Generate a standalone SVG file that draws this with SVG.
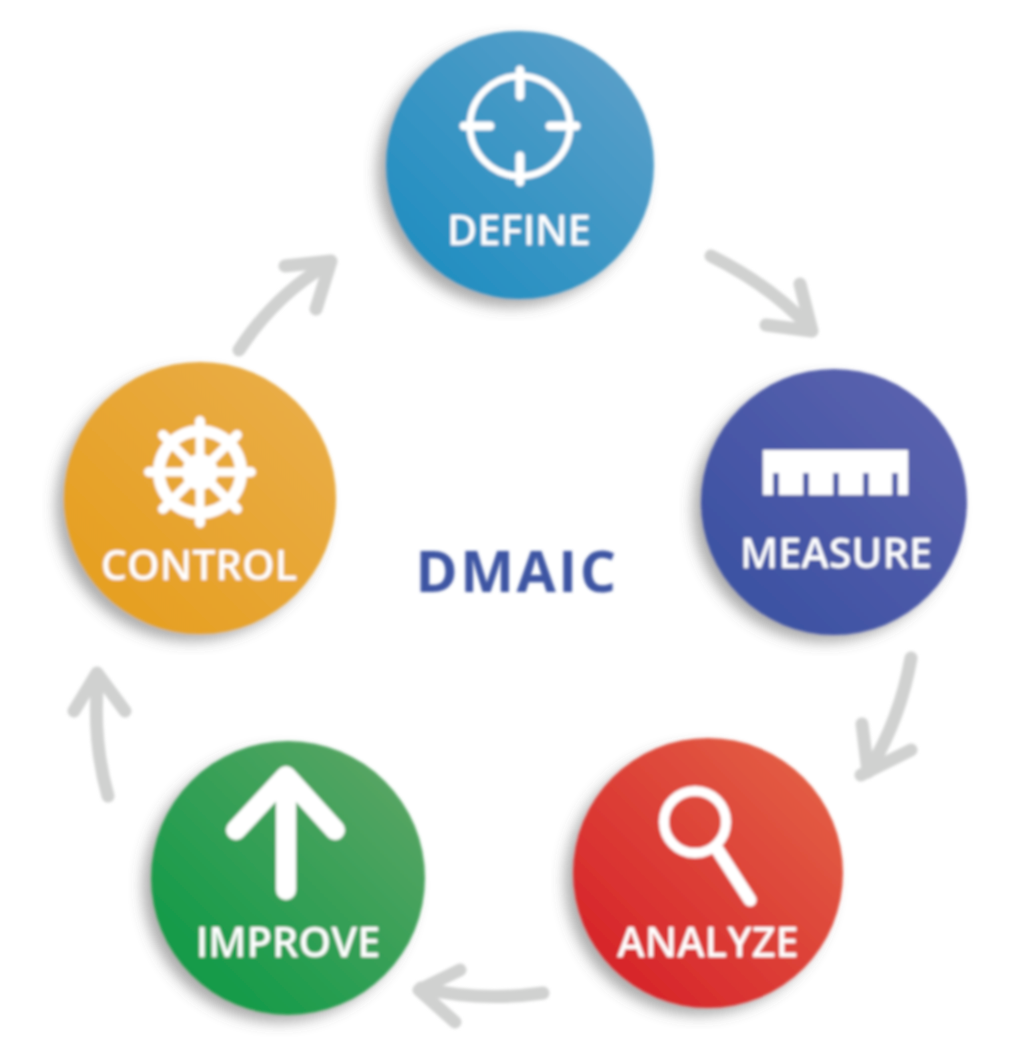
<svg xmlns="http://www.w3.org/2000/svg" width="1024" height="1048" viewBox="0 0 1024 1048">
<style>
.lbl{font-family:"Open Sans","Liberation Sans",sans-serif;font-weight:600;fill:#fff;text-anchor:middle;font-size:41.5px}
.arr{fill:none;stroke:#d0d1d0;stroke-width:13;stroke-linecap:round;stroke-linejoin:round}
.ic{fill:none;stroke:#fff;stroke-linecap:round}
.soft{filter:url(#b)}
</style>
<defs>
<filter id="b" x="-5%" y="-5%" width="110%" height="110%"><feGaussianBlur stdDeviation="1.5"/></filter>
<filter id="sh" x="-20%" y="-20%" width="140%" height="140%"><feGaussianBlur stdDeviation="7"/></filter>
<linearGradient id="gD" x1="0" y1="1" x2="1" y2="0"><stop offset="0.1" stop-color="#1f8dc0"/><stop offset="0.9" stop-color="#5a9fc9"/></linearGradient>
<linearGradient id="gM" x1="0" y1="1" x2="1" y2="0"><stop offset="0.2" stop-color="#3e52a3"/><stop offset="0.9" stop-color="#5b62ae"/></linearGradient>
<linearGradient id="gA" x1="0" y1="1" x2="1" y2="0"><stop offset="0.15" stop-color="#d7252a"/><stop offset="0.9" stop-color="#e35f45"/></linearGradient>
<linearGradient id="gI" x1="0" y1="1" x2="1" y2="0"><stop offset="0.15" stop-color="#129a48"/><stop offset="0.9" stop-color="#59a564"/></linearGradient>
<linearGradient id="gC" x1="0" y1="1" x2="1" y2="0"><stop offset="0.2" stop-color="#e6a024"/><stop offset="0.9" stop-color="#e9ad47"/></linearGradient>
</defs>
<rect width="1024" height="1048" fill="#fff"/>
<g id="connectors" class="arr soft">
<path d="M711 256Q770 285 810 328M800 284L812 331L766 325"/>
<path d="M911 658Q900 720 868 772M861 775L911 750M868 772L862 724"/>
<path d="M543 993Q480 1002 421 988M460 970L419 990L455 1022"/>
<path d="M108 796Q92 740 98 675M74 711L97 673L125 711"/>
<path d="M239 350Q275 295 328 264M285 266L331 261L316 309"/>
</g>
<g id="define" class="soft">
<circle cx="511" cy="173" r="134" fill="#666" opacity=".55" filter="url(#sh)"/>
<circle cx="520" cy="165" r="134" fill="url(#gD)"/>
<g class="ic"><circle cx="520" cy="126" r="50" stroke-width="7"/><path stroke-width="9" d="M464 126H490M550 126H576M520 70V96M520 156V182"/></g>
<text class="lbl" x="519" y="245">DEFINE</text>
</g>
<g id="measure" class="soft">
<circle cx="825" cy="510" r="132" fill="#666" opacity=".55" filter="url(#sh)"/>
<circle cx="834" cy="502" r="133" fill="url(#gM)"/>
<path fill="#fff" d="M763 450H908V495H898V473H892V495H869V473H863V495H839V473H833V495H809V473H803V495H779V473H773V495H763Z"/>
<text class="lbl" x="836" y="568">MEASURE</text>
</g>
<g id="analyze" class="soft">
<circle cx="699" cy="881" r="134" fill="#666" opacity=".55" filter="url(#sh)"/>
<circle cx="708" cy="873" r="135" fill="url(#gA)"/>
<circle cx="695" cy="822" r="31" fill="none" stroke="#fff" stroke-width="10"/>
<path d="M717 849L750 900" stroke="#fff" stroke-width="13" stroke-linecap="round"/>
<text class="lbl" x="708" y="957">ANALYZE</text>
</g>
<g id="improve" class="soft">
<circle cx="279" cy="886" r="136" fill="#666" opacity=".55" filter="url(#sh)"/>
<circle cx="288" cy="878" r="137" fill="url(#gI)"/>
<path d="M286 780V890M236 830L286 776L335 830" fill="none" stroke="#fff" stroke-width="20" stroke-linecap="round" stroke-linejoin="round"/>
<text class="lbl" x="288" y="957">IMPROVE</text>
</g>
<g id="control" class="soft">
<circle cx="191" cy="506" r="135" fill="#666" opacity=".55" filter="url(#sh)"/>
<circle cx="200" cy="498" r="136" fill="url(#gC)"/>
<g fill="none" stroke="#fff">
<circle cx="200" cy="472" r="41" stroke-width="12"/>
<circle cx="200" cy="472" r="18" fill="#fff" stroke="none"/>
<path stroke-width="9" d="M200 428V516M156 472H244M169 441L231 503M231 441L169 503"/>
<path stroke-width="10" stroke-linecap="round" d="M200 421V430M200 514V523M149 472H158M242 472H251M163 435L169 441M237 435L231 441M163 509L169 503M237 509L231 503"/>
</g>
<text class="lbl" x="199" y="580">CONTROL</text>
</g>
<text id="title" class="soft" x="517" y="592" font-family="'Open Sans','Liberation Sans',sans-serif" font-weight="700" font-size="57" fill="#3e55a3" text-anchor="middle" letter-spacing="2.5">DMAIC</text>
</svg>
